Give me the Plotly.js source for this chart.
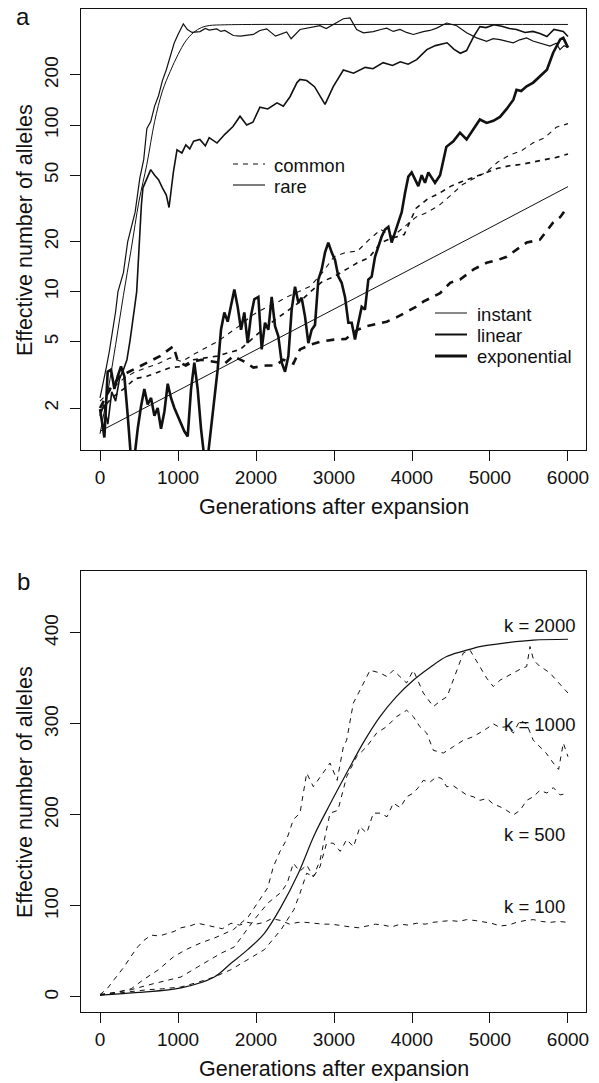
<!DOCTYPE html>
<html>
<head>
<meta charset="utf-8">
<script src="https://cdn.plot.ly/plotly-3.0.1.min.js"></script>
<style>html,body{margin:0;padding:0;background:#fff;}#chart{width:599px;height:1083px;}</style>
</head>
<body>
<div id="chart"></div>
<script>
// ---------- Panel a (log scale) ----------
const xTicks = [0, 1000, 2000, 3000, 4000, 5000, 6000];
const aYTicks = [2, 5, 10, 20, 50, 100, 200];
const bYTicks = [0, 100, 200, 300, 400];

// instant, rare: smooth curve
const aSmoothGen = [0,100,200,300,400,500,600,700,800,900,1000,1100,1200,1300,1400,1600,2000,3000,4000,5000,6000];
const aSmooth    = [1.4,2.5,4.8,9.5,18,35,58,105,160,210,265,320,360,385,396,400,402,402,402,402,402];

// instant, common: straight on log scale
const aStraightGen = [0,1000,2000,3000,4000,5000,6000];
const aStraight    = [1.45,2.54,4.45,7.8,13.7,24.2,42.7];

// noisy curve reaching plateau early
const aPlateauGen = [0,40,80,120,160,200,230,270,300,355,400,450,480,510,560,600,650,700,750,800,850,900,950,1000,1068,1120,1180,1282,1350,1400,1496,1550,1600,1709,1800,1966,2050,2137,2250,2393,2450,2564,2700,2820,2900,2991,3060,3120,3205,3290,3376,3504,3600,3675,3760,3846,3930,4017,4145,4230,4316,4444,4573,4700,4829,4957,5040,5128,5220,5299,5380,5470,5550,5641,5769,5850,5897,5950,6000];
const aPlateau    = [2.3,2.8,3.5,4.4,5.8,7.6,10,11.5,13,20,24,30,38,48,62,95,105,130,150,185,215,260,310,350,405,375,360,364,380,372,378,365,370,345,342,350,370,378,342,362,330,375,385,395,380,402,415,435,440,375,358,364,375,382,365,375,360,350,364,370,382,410,395,358,334,318,330,326,318,312,325,334,320,312,298,310,284,300,292];

// linear, rare
const aLinearGen = [0,50,100,150,200,250,300,345,385,420,450,470,500,530,550,600,650,700,750,800,850,885,940,987,1050,1100,1150,1200,1280,1350,1400,1500,1600,1705,1795,1880,1960,2050,2150,2270,2350,2436,2525,2564,2650,2750,2885,2990,3120,3250,3400,3500,3630,3750,3850,3950,4060,4190,4300,4450,4540,4620,4700,4790,4870,4950,5050,5150,5250,5340,5450,5550,5640,5730,5820,5940,6000];
const aLinear    = [1.8,2.1,1.6,2.5,2.2,3.0,3.4,3.9,5.1,6.5,8.5,10,20,33,42,48,54,50,47,42,38,32,52,71,68,76,72,80,82,75,84,78,88,98,113,100,104,128,125,136,130,148,180,188,185,170,133,170,214,205,222,218,237,228,240,232,247,284,300,312,285,270,280,340,390,385,400,392,380,375,360,365,355,340,375,365,340];

// exponential, rare
const aExpGen = [0,56,98,141,184,226,269,312,355,397,440,483,526,568,611,654,697,739,782,825,868,910,953,996,1038,1081,1124,1167,1209,1252,1295,1338,1380,1423,1466,1508,1551,1594,1637,1679,1722,1765,1808,1850,1893,1936,1978,2030,2073,2115,2158,2201,2244,2286,2329,2372,2415,2457,2500,2543,2585,2628,2671,2714,2756,2799,2842,2885,2927,2970,3013,3056,3098,3141,3184,3227,3269,3312,3355,3397,3440,3483,3526,3568,3611,3654,3697,3739,3782,3825,3868,3910,3953,3996,4038,4081,4124,4167,4209,4295,4360,4440,4530,4615,4700,4790,4870,4957,5043,5128,5214,5300,5340,5400,5470,5555,5640,5730,5810,5900,5940,6000];
const aExp    = [1.97,1.33,3.3,3.4,2.6,3.1,3.55,3.1,1.8,1.0,1.0,1.5,2.05,2.6,2.1,2.3,1.8,2.0,1.5,1.9,2.8,2.3,2.0,1.8,1.65,1.45,1.35,2.6,3.75,2.6,1.5,1.0,1.0,1.5,2.3,3.4,5.9,7.5,6.6,8.1,10.3,8.1,5.9,7.5,4.9,7.2,9,9.3,4.5,6.5,5.9,9.3,6.2,5.4,3.75,3.3,4.1,7.8,10.7,8.6,9.2,7.1,4.9,5.9,6.3,11.8,13.6,17.2,19.7,17.2,15.5,12.3,11.3,9.3,6.5,6.5,5.15,6.5,8.1,7.8,11.8,12.3,16.2,18.6,21.4,23.6,24.5,19.7,22.6,26,30,39,49,52,47,43,50,45,52,45,50,74,80,90,82,95,108,103,106,112,125,142,163,160,171,180,195,215,272,327,334,292];

// common (dashed)
const aCommonGen = [0,150,300,450,600,750,900,1050,1200,1350,1500,1650,1800,1950,2100,2250,2400,2550,2700,2850,3000,3150,3300,3450,3600,3750,3900,4050,4200,4350,4500,4650,4800,4950,5100,5250,5400,5550,5700,5850,6000];
const aCommon1 = [2.2,2.6,3.0,3.3,3.5,3.7,4.0,3.8,4.2,4.6,5.0,5.6,6.3,7.2,7.9,8.5,9.3,10.0,10.8,13.0,16.2,17.2,17.5,20.5,23.6,21.4,24.5,28,30,33,38,44,48,52,60,66,70,78,84,97,102];
const aCommon2 = [1.9,2.3,2.6,3.0,3.1,3.3,3.5,3.55,3.9,4.0,4.1,4.3,4.5,5.2,6.0,6.8,7.6,8.6,10.0,11.5,12.3,13.6,14.9,16.0,19.7,21.0,22,31.6,36,39,43,46,49,52,55,57,58,60,62,64,67];
const aExpCommonGen = [0,128,256,427,598,769,940,1000,1100,1200,1300,1450,1600,1709,1850,1966,2137,2250,2350,2480,2564,2700,2820,3000,3150,3300,3420,3550,3675,3800,3932,4050,4145,4250,4360,4490,4615,4790,4957,5100,5214,5350,5470,5640,5810,5900,6000];
const aExpCommon    = [2.0,2.6,3.1,3.4,3.7,4.1,4.7,3.8,3.6,3.8,3.9,3.8,3.7,4.1,3.8,3.5,3.6,3.6,3.9,3.7,4.5,4.8,5.0,5.15,5.2,5.9,6.2,6.4,6.6,7.0,7.6,8.1,8.7,9.2,9.8,11.3,11.8,13.6,14.9,15.5,16.2,18.0,19.7,20.5,26,28,32.5];

// legend labels
const legendTypeLabels = ['common', 'rare'];
const legendSpeedLabels = ['instant', 'linear', 'exponential'];

// ---------- Panel b (linear scale) ----------
const bSmoothGen = [0,500,1038,1466,1679,1893,2107,2321,2543,2748,2950,3162,3380,3590,3800,4017,4230,4444,4660,4870,5200,5555,6000];
const bSmooth    = [2,5,10,22,37,52,70,99,136,178,212,246,280,308,330,348,362,374,380,385,389,392,393];

const bK100Gen = [0,100,180,308,400,483,560,654,760,868,950,1038,1150,1252,1350,1466,1570,1679,1790,1893,2000,2107,2200,2321,2430,2540,2640,2748,2850,2970,3100,3205,3320,3430,3530,3630,3740,3850,3950,4060,4170,4270,4380,4490,4600,4700,4810,4920,5020,5128,5240,5340,5450,5555,5660,5770,5880,6000];
const bK100    = [2.5,10,19,33,45,55,62,68,67,70,72,76,78,81,79,77,75,81,79,82,80,82,86,84,80,82,82,81,80,80,78,77,76,78,80,79,77,80,79,81,80,82,83,84,83,85,84,82,81,78,79,82,84,85,83,82,83,82];

const bK500Gen = [0,200,400,611,800,1038,1250,1466,1679,1893,2107,2321,2486,2564,2650,2735,2820,2905,2991,3080,3162,3250,3333,3420,3504,3590,3680,3761,3850,3932,4017,4080,4145,4230,4316,4380,4444,4530,4615,4700,4786,4870,4960,5043,5128,5214,5300,5385,5470,5555,5640,5730,5812,5900,6000];
const bK500    = [2,4,6,8,9,11,16,22,30,41,52,74,96,114,136,132,143,169,169,160,173,165,187,180,202,202,198,213,208,220,224,230,238,236,242,240,231,232,227,222,220,216,218,212,209,205,200,205,216,220,227,224,230,222,224];

const bK1000Gen = [0,200,400,611,800,1038,1252,1400,1551,1722,1850,1978,2150,2321,2400,2479,2560,2650,2735,2820,2949,3050,3162,3290,3419,3547,3675,3803,3932,4017,4100,4188,4274,4402,4530,4658,4786,4870,4960,5043,5128,5214,5300,5385,5470,5555,5640,5720,5812,5880,5940,6000];
const bK1000    = [2,5,8,13,17,22,33,40,48,55,70,85,103,115,125,147,138,145,132,150,202,205,242,264,275,290,297,308,315,308,297,290,271,268,275,282,286,290,295,300,296,297,290,304,300,282,275,268,257,250,279,264];

const bK2000Gen = [0,200,400,555,750,940,1100,1282,1500,1709,1900,2051,2150,2222,2308,2393,2479,2564,2650,2735,2863,2949,3040,3120,3162,3248,3333,3462,3590,3680,3761,3846,3930,4017,4145,4274,4360,4450,4530,4658,4744,4870,4960,5043,5128,5214,5300,5385,5470,5513,5560,5641,5700,5769,5850,5930,6000];
const bK2000    = [3,5,9,19,30,44,52,59,66,74,88,107,120,143,160,173,195,202,246,231,246,257,238,275,282,323,337,359,356,352,359,352,345,359,334,319,325,330,348,378,381,363,350,341,348,352,356,360,363,385,370,363,360,356,348,340,334];

const kLabels = ['k = 2000', 'k = 1000', 'k = 500', 'k = 100'];
const kLabelGen = [5641, 5641, 5570, 5570];
const kLabelVal = [408, 299, 178, 99];

// ---------- styling ----------
const ink = '#111';
const FONT = 'Liberation Sans, Arial, Helvetica, sans-serif';
function tr(x, y, w, dash, ax, shape) {
  return {x: x, y: y, type: 'scatter', mode: 'lines', showlegend: false, hoverinfo: 'skip',
    xaxis: ax === 2 ? 'x2' : 'x', yaxis: ax === 2 ? 'y2' : 'y',
    line: {color: ink, width: w, dash: dash || 'solid', shape: shape || 'linear'}};
}
const thinDash = '5px,5px';
const thickDash = '8px,7px';

const data = [
  tr(aStraightGen, aStraight, 1, null, 1),
  tr(aSmoothGen, aSmooth, 1, null, 1, 'spline'),
  tr(aPlateauGen, aPlateau, 1.2, null, 1),
  tr(aLinearGen, aLinear, 1.6, null, 1),
  tr(aExpGen, aExp, 2.6, null, 1),
  tr(aCommonGen, aCommon1, 1.1, thinDash, 1),
  tr(aCommonGen, aCommon2, 1.6, thinDash, 1),
  tr(aExpCommonGen, aExpCommon, 2.6, thickDash, 1),
  tr(bSmoothGen, bSmooth, 1.2, null, 2, 'spline'),
  tr(bK100Gen, bK100, 1, thinDash, 2),
  tr(bK500Gen, bK500, 1, thinDash, 2),
  tr(bK1000Gen, bK1000, 1, thinDash, 2),
  tr(bK2000Gen, bK2000, 1, thinDash, 2)
];

const W = 599, H = 1083;
const px = v => v / W, py = v => 1 - v / H;
function xax(anchor) {
  return {domain: [px(81), px(586)], range: [-244, 6231], tickvals: xTicks, ticktext: xTicks.map(String),
    ticks: 'outside', ticklen: 10, tickwidth: 1, tickcolor: ink, showline: true, mirror: true,
    linecolor: ink, linewidth: 1, showgrid: false, zeroline: false, anchor: anchor,
    tickfont: {family: FONT, size: 19, color: ink}, fixedrange: true};
}
function yax(anchor, dom) {
  return {domain: dom, ticks: 'outside', ticklen: 10, tickwidth: 1, tickcolor: ink, showline: true,
    mirror: true, linecolor: ink, linewidth: 1, showgrid: false, zeroline: false, anchor: anchor,
    tickangle: -90, ticklabelstandoff: 4, tickfont: {family: FONT, size: 19, color: ink}, fixedrange: true};
}
const yA = Object.assign(yax('x', [py(450), py(9)]), {type: 'log', range: [0.049, 2.697], tickvals: aYTicks, ticktext: aYTicks.map(String)});
const yB = Object.assign(yax('x2', [py(1012), py(571)]), {range: [-16.5, 468], tickvals: bYTicks, ticktext: bYTicks.map(String)});

const titleFont = {family: FONT, size: 21.5, color: ink};
const legFont = {family: FONT, size: 18.5, color: ink};
const annotations = [
  {text: 'a', xref: 'paper', yref: 'paper', x: px(23), y: py(17), xanchor: 'center', yanchor: 'middle', showarrow: false, font: {family: FONT, size: 24, color: ink}},
  {text: 'b', xref: 'paper', yref: 'paper', x: px(23), y: py(581), xanchor: 'center', yanchor: 'middle', showarrow: false, font: {family: FONT, size: 24, color: ink}},
  {text: 'Effective number of alleles', xref: 'paper', yref: 'paper', x: px(25), y: py(230), textangle: -90, xanchor: 'center', yanchor: 'middle', showarrow: false, font: titleFont},
  {text: 'Effective number of alleles', xref: 'paper', yref: 'paper', x: px(25), y: py(792), textangle: -90, xanchor: 'center', yanchor: 'middle', showarrow: false, font: titleFont},
  {text: 'Generations after expansion', xref: 'paper', yref: 'paper', x: px(334), y: py(507), xanchor: 'center', yanchor: 'middle', showarrow: false, font: titleFont},
  {text: 'Generations after expansion', xref: 'paper', yref: 'paper', x: px(334), y: py(1069), xanchor: 'center', yanchor: 'middle', showarrow: false, font: titleFont}
];
kLabels.forEach((t, i) => annotations.push({text: t, xref: 'x2', yref: 'y2', x: kLabelGen[i], y: kLabelVal[i],
  xanchor: 'center', yanchor: 'middle', showarrow: false, font: legFont}));

// legend keys (drawn in paper space) and labels
const shapes = [];
const typeKeyStyle = [{w: 1.1, dash: thinDash}, {w: 1.1, dash: 'solid'}];
const speedKeyStyle = [{w: 1, dash: 'solid'}, {w: 2, dash: 'solid'}, {w: 3, dash: 'solid'}];
const typeRows = [164, 185];
const speedRows = [313, 334.5, 356];
legendTypeLabels.forEach((t, i) => {
  shapes.push({type: 'line', xref: 'paper', yref: 'paper', x0: px(233), x1: px(265), y0: py(typeRows[i]), y1: py(typeRows[i]),
    line: {color: ink, width: typeKeyStyle[i].w, dash: typeKeyStyle[i].dash}});
  annotations.push({text: t, xref: 'paper', yref: 'paper', x: px(272), y: py(typeRows[i] + 1), xanchor: 'left', yanchor: 'middle', showarrow: false, font: legFont});
});
legendSpeedLabels.forEach((t, i) => {
  shapes.push({type: 'line', xref: 'paper', yref: 'paper', x0: px(435), x1: px(467), y0: py(speedRows[i]), y1: py(speedRows[i]),
    line: {color: ink, width: speedKeyStyle[i].w, dash: speedKeyStyle[i].dash}});
  annotations.push({text: t, xref: 'paper', yref: 'paper', x: px(475), y: py(speedRows[i] + 1), xanchor: 'left', yanchor: 'middle', showarrow: false, font: legFont});
});

const layout = {
  width: W, height: H, margin: {l: 0, r: 0, t: 0, b: 0}, paper_bgcolor: '#fff', plot_bgcolor: '#fff',
  font: {family: FONT, color: ink}, showlegend: false,
  xaxis: xax('y'), yaxis: yA, xaxis2: xax('y2'), yaxis2: yB,
  annotations: annotations, shapes: shapes
};
Plotly.newPlot('chart', data, layout, {displayModeBar: false, staticPlot: true});
</script>
</body>
</html>
